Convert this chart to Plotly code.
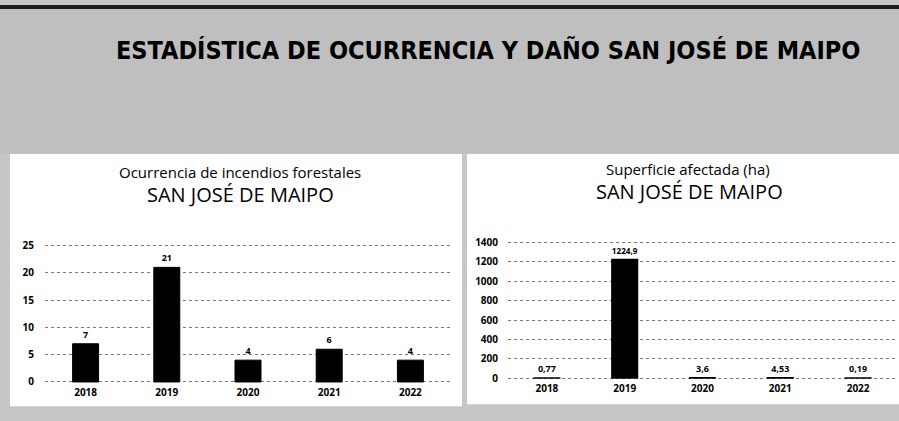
import plotly.graph_objects as go

W, H = 899, 421

years = ["2018", "2019", "2020", "2021", "2022"]
occurrences = [7, 21, 4, 6, 4]
occ_labels = ["7", "21", "4", "6", "4"]
area_ha = [0.77, 1224.9, 3.6, 4.53, 0.19]
area_labels = ["0,77", "1224,9", "3,6", "4,53", "0,19"]
occ_ticks = [0, 5, 10, 15, 20, 25]
area_ticks = [0, 200, 400, 600, 800, 1000, 1200, 1400]

main_title = "ESTADÍSTICA DE OCURRENCIA Y DAÑO SAN JOSÉ DE MAIPO"
left_title = "Ocurrencia de incendios forestales"
right_title = "Superficie afectada (ha)"
place = "SAN JOSÉ DE MAIPO"

def px(x):
    return x / W

def py(y):
    return 1 - y / H

FONT = "Open Sans"
TICKFONT = dict(size=10, color="black", family=FONT, weight="bold")

fig = go.Figure()

fig.add_trace(go.Bar(
    x=years, y=occurrences, text=occ_labels, textposition="outside",
    textfont=dict(size=9, color="black", family=FONT, weight="bold"),
    marker=dict(color="black", line=dict(color="black", width=1)),
    width=0.32, cliponaxis=False, xaxis="x", yaxis="y", showlegend=False,
))
fig.add_trace(go.Bar(
    x=years, y=area_ha, text=area_labels, textposition="outside",
    textfont=dict(size=9, color="black", family=FONT, weight="bold"),
    marker=dict(color="black", line=dict(color="black", width=1.4)),
    width=0.33, cliponaxis=False, xaxis="x2", yaxis="y2", showlegend=False,
))

grid = dict(showgrid=True, gridcolor="#777777", griddash="dot", gridwidth=1,
            zeroline=False, showline=False, ticks="", tickfont=TICKFONT)

fig.update_layout(
    width=W, height=H,
    margin=dict(l=0, r=0, t=0, b=0),
    paper_bgcolor="#c6c6c6",
    plot_bgcolor="rgba(0,0,0,0)",
    font=dict(family=FONT, color="black"),
    xaxis=dict(domain=[px(45), px(451)], anchor="y", showgrid=False, zeroline=False,
               showline=False, ticks="", tickfont=TICKFONT),
    yaxis=dict(domain=[py(388), py(243)], anchor="x", range=[-0.5, 25.5],
               tickvals=occ_ticks, ticklabelstandoff=10, **grid),
    xaxis2=dict(domain=[px(508), px(897)], anchor="y2", showgrid=False, zeroline=False,
                showline=False, ticks="", tickfont=TICKFONT),
    yaxis2=dict(domain=[py(384), py(240)], anchor="x2", range=[-28, 1428],
                tickvals=area_ticks, ticklabelstandoff=9, **grid),
    bargap=0.68,
)

# panels and border
fig.add_shape(type="rect", xref="paper", yref="paper", x0=px(10), x1=px(462),
              y0=py(410), y1=py(152), fillcolor="white", line=dict(width=0), layer="below")
fig.add_shape(type="rect", xref="paper", yref="paper", x0=px(467), x1=px(899),
              y0=py(408), y1=py(152), fillcolor="white", line=dict(width=0), layer="below")
fig.add_shape(type="rect", xref="paper", yref="paper", x0=0, x1=1,
              y0=py(4), y1=1, fillcolor="#1e1e1e", line=dict(width=0), layer="below")
fig.add_shape(type="rect", xref="paper", yref="paper", x0=0, x1=1,
              y0=py(152), y1=py(4), fillcolor="#bfbfbf", line=dict(width=0), layer="below")

# titles
fig.add_annotation(x=px(488), y=py(46), xref="paper", yref="paper", text=f"<b>{main_title}</b>",
                   xanchor="center", yanchor="middle", showarrow=False,
                   font=dict(size=25, family="DejaVu Sans Condensed", color="black"))
fig.add_annotation(x=px(240), y=py(171), xref="paper", yref="paper", text=left_title,
                   xanchor="center", yanchor="middle", showarrow=False,
                   font=dict(size=15, family=FONT, color="black"))
fig.add_annotation(x=px(240), y=py(194), xref="paper", yref="paper", text=place,
                   xanchor="center", yanchor="middle", showarrow=False,
                   font=dict(size=20, family=FONT, color="black"))
fig.add_annotation(x=px(688), y=py(168), xref="paper", yref="paper", text=right_title,
                   xanchor="center", yanchor="middle", showarrow=False,
                   font=dict(size=15, family=FONT, color="black"))
fig.add_annotation(x=px(689), y=py(191), xref="paper", yref="paper", text=place,
                   xanchor="center", yanchor="middle", showarrow=False,
                   font=dict(size=20, family=FONT, color="black"))

fig.write_html("out.html", config={"displayModeBar": False},
               post_script="document.body.style.margin='0';document.body.style.overflow='hidden';")
